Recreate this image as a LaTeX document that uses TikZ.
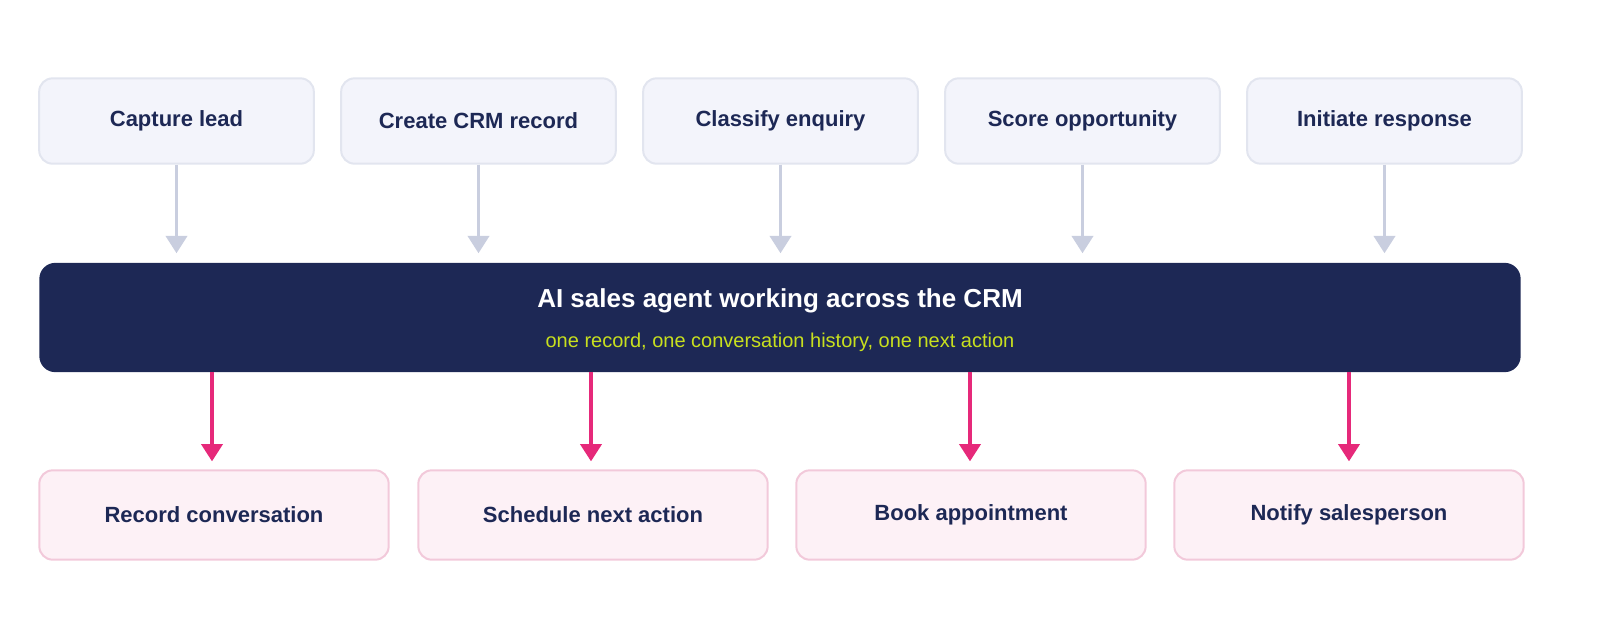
\documentclass[tikz,border=0pt]{standalone}
\usepackage{fontspec}
\setmainfont{Liberation Sans}
\usetikzlibrary{arrows.meta}
\definecolor{navy}{HTML}{1D2855}
\definecolor{tfill}{HTML}{F3F4FB}
\definecolor{tdraw}{HTML}{E2E5EF}
\definecolor{garrow}{HTML}{C9CEDF}
\definecolor{pfill}{HTML}{FDF1F6}
\definecolor{pdraw}{HTML}{F2C9DA}
\definecolor{parrow}{HTML}{E6297A}
\definecolor{lime}{HTML}{C8E01E}
\begin{document}
\begin{tikzpicture}[x=0.75pt,y=-0.75pt,
 top/.style={draw=tdraw,fill=tfill,line width=1.5pt,rounded corners=10pt,minimum width=206pt,minimum height=64pt,text=navy,font=\bfseries\fontsize{16.5}{20}\selectfont},
 bot/.style={draw=pdraw,fill=pfill,line width=1.5pt,rounded corners=10pt,minimum width=262pt,minimum height=67pt,text=navy,font=\bfseries\fontsize{16.5}{20}\selectfont},
 ga/.style={draw=garrow,line width=2.2pt,-{Triangle[width=16pt,length=13pt]},shorten >=7pt},
 pa/.style={draw=parrow,line width=2.4pt,-{Triangle[width=16pt,length=13pt]},shorten >=6pt}]
\node[top] (t1) at (176.5,121) {Capture lead};
\node[top] (t2) at (478.5,121) {Create CRM record};
\node[top] (t3) at (780.5,121) {Classify enquiry};
\node[top] (t4) at (1082.5,121) {Score opportunity};
\node[top] (t5) at (1384.5,121) {Initiate response};
\node[fill=navy,rounded corners=12pt,minimum width=1111pt,minimum height=82pt,inner sep=0] (bar) at (780,317.5) {};
\node[text=white,font=\bfseries\fontsize{19.5}{23}\selectfont] (ttl) at (780,301) {AI sales agent working across the CRM};
\node[text=lime,font=\fontsize{15}{18}\selectfont] (sub) at (780,342) {one record, one conversation history, one next action};
\node[bot] (b1) at (214,515) {Record conversation};
\node[bot] (b2) at (593,515) {Schedule next action};
\node[bot] (b3) at (971,515) {Book appointment};
\node[bot] (b4) at (1349,515) {Notify salesperson};
\foreach \i in {1,...,5}{\draw[ga] (t\i.south) -- (bar.north -| t\i);}
\foreach \i/\x in {1/212,2/591,3/970,4/1349}{\coordinate (s\i) at (\x,372); \draw[pa] (s\i) -- (b\i.north -| s\i);}
\pgfresetboundingbox
\useasboundingbox (0,0) rectangle (1600,640);
\end{tikzpicture}
\end{document}
